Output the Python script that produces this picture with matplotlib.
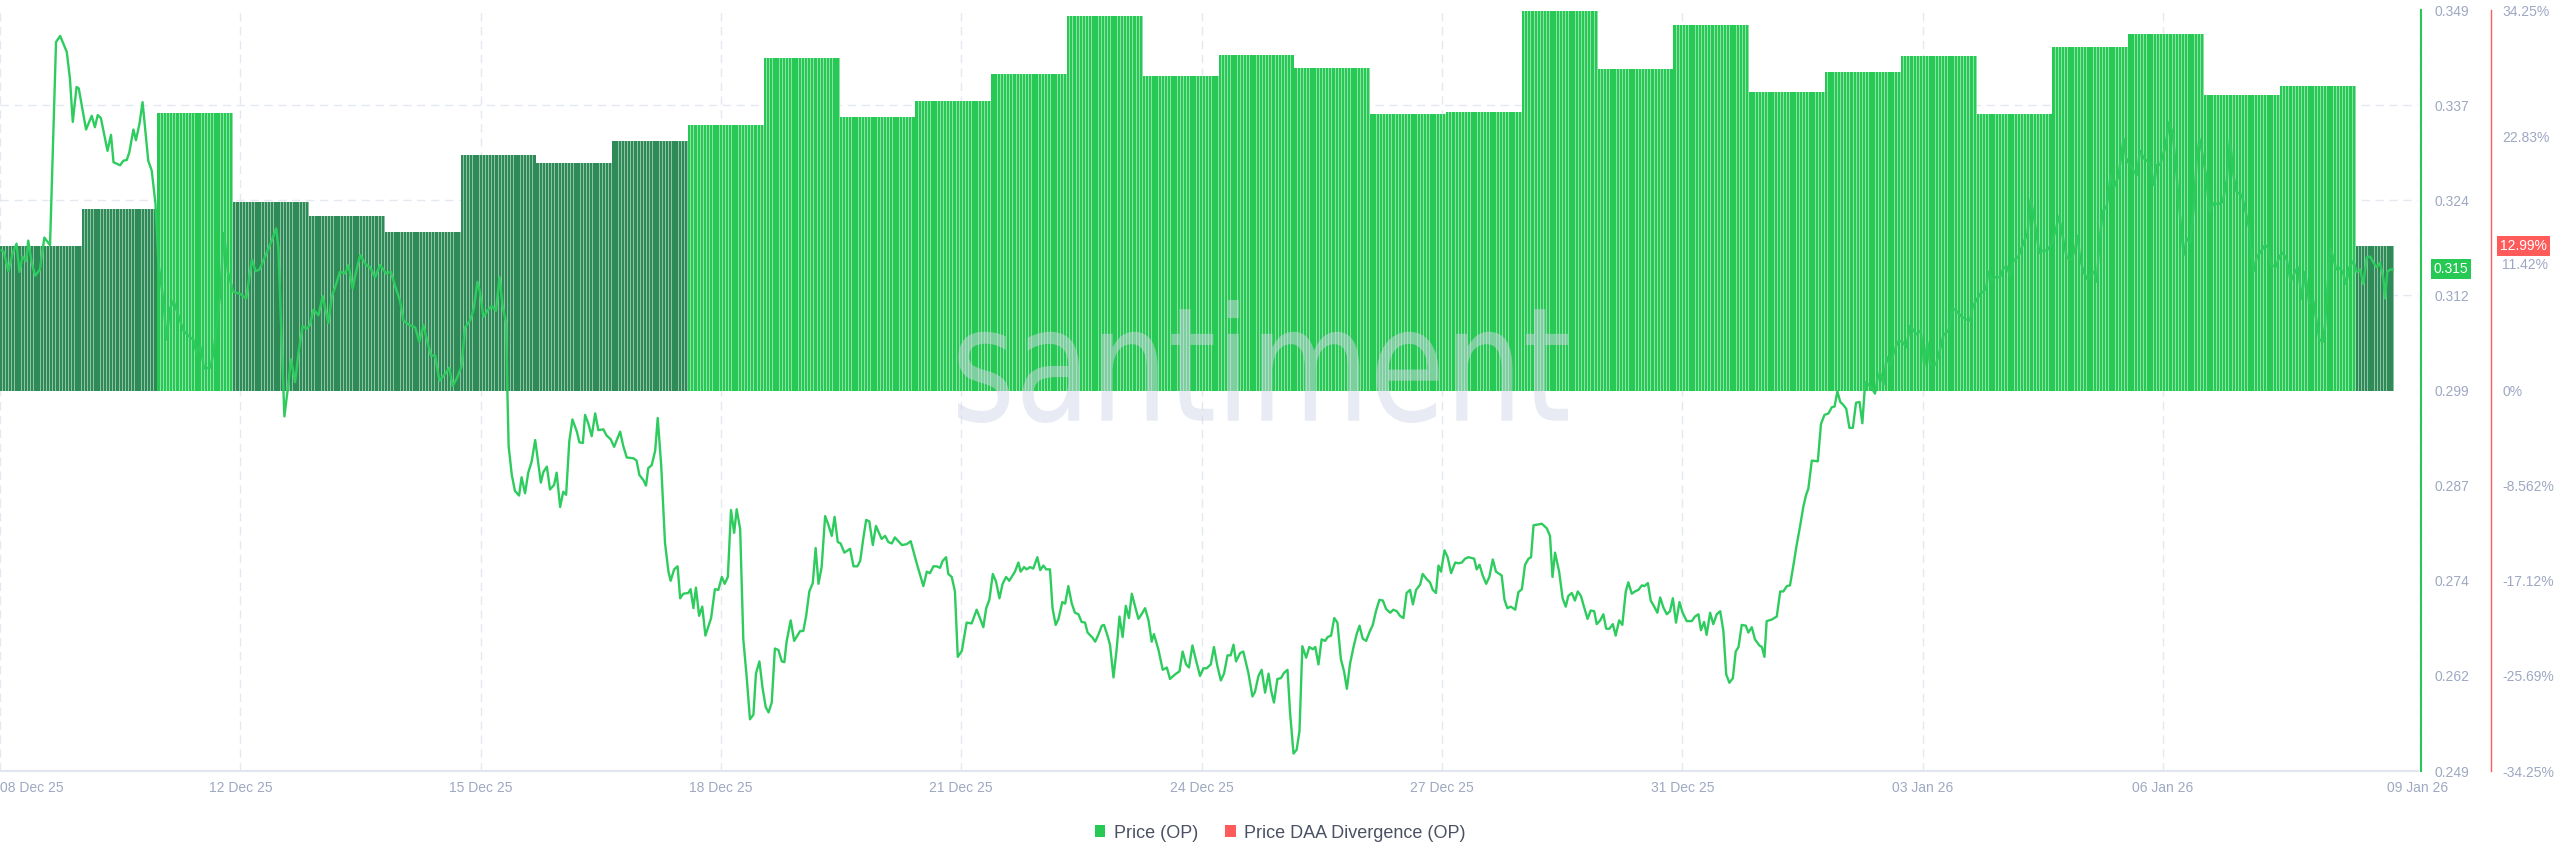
import numpy as np
import matplotlib
matplotlib.use("Agg")
import matplotlib.pyplot as plt
from matplotlib.patches import Patch, PathPatch
from matplotlib.textpath import TextPath
from matplotlib.font_manager import FontProperties
from matplotlib.transforms import Affine2D, blended_transform_factory

plt.rcParams['font.family'] = ['Liberation Sans', 'DejaVu Sans']

# daily Price DAA divergence (%), one bar per day starting 09 Dec 25
divergence = [13.0, 16.3, 25.0, 17.0, 15.7, 14.3, 21.2, 20.5, 22.5, 23.9,
              29.9, 24.6, 26.1, 28.5, 33.7, 28.3, 30.2, 29.0, 24.9, 25.1,
              34.2, 28.9, 32.9, 26.9, 28.7, 30.1, 24.9, 30.9, 32.1, 26.6,
              27.4, 12.99]
last_hour = 755          # last hourly slot drawn for the running day

# OP price, hours since 09 Dec 25 00:00
price_h = [
    -1.3, -0.6, 0.8, 2.2, 3.4, 4.3, 5.3, 6.4, 7.1, 8.2, 9.3, 10.8, 12.2, 14.0, 15.9, 17.2, 19.3, 20.3,
    21.2, 22.4, 23.1, 25.4, 27.2, 28.2, 29.1, 30.1, 32.2, 33.3, 34.1, 36.2, 37.2, 38.3, 39.1, 40.4,
    41.2, 42.3, 43.3, 45.1, 46.2, 47.4, 48.3, 49.9, 50.9, 52.0, 53.1, 54.6, 56.2, 58.3, 59.4, 60.4,
    61.5, 62.8, 64.7, 65.7, 67.8, 69.1, 70.3, 72.0, 74.2, 76.1, 77.9, 79.1, 80.3, 82.6, 84.2, 85.6,
    86.3, 87.1, 88.2, 89.3, 90.3, 91.6, 92.6, 94.0, 95.1, 96.3, 97.4, 99.0, 100.3, 102.1, 103.3,
    104.2, 105.8, 107.4, 108.5, 109.8, 110.9, 112.2, 114.1, 115.3, 116.9, 118.5, 120.4, 121.9, 123.2,
    124.8, 125.9, 127.5, 129.6, 130.9, 132.2, 133.3, 134.6, 135.9, 137.3, 139.1, 140.4, 141.5, 142.8,
    144.3, 145.4, 147.0, 148.2, 149.3, 150.1, 151.2, 152.5, 153.8, 155.2, 156.3, 157.3, 158.4, 158.8,
    159.2, 160.2, 161.2, 162.5, 163.3, 164.4, 165.4, 166.5, 167.6, 169.4, 170.2, 171.3, 172.3, 173.6,
    174.4, 175.5, 176.5, 177.4, 178.4, 179.4, 180.8, 181.6, 182.7, 183.4, 184.4, 185.5, 186.6, 187.6,
    189.2, 190.2, 191.5, 192.6, 194.5, 195.5, 196.6, 198.7, 199.7, 200.6, 201.9, 202.7, 203.4, 204.5,
    205.6, 206.4, 207.5, 208.7, 209.8, 210.5, 211.6, 212.7, 213.5, 214.5, 216.1, 216.8, 217.7, 218.5,
    219.5, 220.5, 221.5, 223.3, 224.5, 225.6, 226.7, 227.6, 228.6, 229.6, 230.6, 231.4, 232.5, 233.5,
    234.6, 235.6, 236.7, 237.5, 238.6, 239.6, 240.6, 241.5, 242.5, 243.5, 244.6, 245.7, 246.5, 247.2,
    248.5, 249.6,
    251.5, 252.5, 253.4, 254.4, 255.5, 256.4, 257.3, 258.3, 259.4, 260.4, 261.5, 262.4, 263.4, 264.3,
    265.5, 267.3, 268.4, 269.6, 270.5, 271.5, 272.4, 273.4, 274.5, 275.5, 277.3, 278.4, 279.4, 280.5,
    281.5, 283.7, 285.2, 286.5, 288.4, 290.5, 291.6, 292.6, 293.7, 294.7, 295.8, 296.6, 297.7, 298.4,
    299.5, 300.5, 301.4, 302.7, 304.2, 305.8, 307.4, 308.5, 309.5, 310.4, 311.4, 312.5, 313.5, 314.6,
    315.6, 316.7, 317.7, 319.5, 320.6, 321.3, 322.4, 323.2, 324.3, 325.3, 326.6, 327.5, 328.5, 329.4,
    330.6, 331.4, 332.4, 333.3, 334.5, 335.4, 336.4, 337.5, 338.5, 339.6, 340.6, 341.7, 342.5, 344.1,
    344.9, 345.9, 347.0, 347.7, 348.8, 349.6, 350.7, 351.7, 352.6, 353.6, 354.6, 355.6, 356.5, 357.5,
    358.6, 359.6, 360.7, 361.8, 362.8, 363.5, 364.9, 366.3, 367.6, 368.6, 370.2, 371.6, 372.6, 373.7,
    374.6, 375.7, 376.8,
    378.1, 379.2, 380.2, 381.5, 382.5, 383.6, 384.7, 385.7, 386.8, 387.8, 388.7, 389.5, 390.8, 391.8,
    393.4, 394.7, 395.5, 396.6, 397.6, 398.7, 399.8, 400.6, 401.5, 402.6, 403.7, 404.7, 405.8, 406.6,
    407.7, 408.7, 409.6, 410.5, 411.7, 412.7, 413.8, 414.6, 415.6, 416.6, 417.7, 418.5, 419.6, 420.6,
    421.6, 422.7, 423.7, 424.6, 425.6, 426.7, 427.7, 428.6, 429.6, 430.7, 431.7, 432.8, 433.8, 434.9,
    436.0, 437.0, 438.3, 439.3, 440.4, 441.4, 442.5, 443.5, 444.6, 445.5, 446.5, 447.8, 448.6, 449.9,
    450.9, 451.8, 452.8, 453.6, 454.4, 455.5, 456.5, 457.6, 458.9, 459.9, 461.0, 462.0, 463.1, 464.9,
    465.7, 466.6, 467.6, 468.7, 469.7, 470.8, 471.8, 473.6, 474.5, 475.4, 476.5, 477.9, 478.9, 480.0,
    481.0, 482.1, 482.9, 483.7, 485.2, 486.3, 487.9, 488.9, 489.7, 490.5, 491.8, 492.9, 493.9, 494.7,
    495.8, 496.8, 497.7, 498.7, 499.8, 500.8, 501.8, 502.9, 503.7,
    504.8, 505.8, 506.7, 507.7, 508.8, 509.7, 510.8, 511.8, 512.9, 513.7, 514.8, 515.8, 516.9, 518.0,
    518.8, 519.9, 520.8, 521.9, 522.9, 523.8, 524.8, 525.9, 526.9, 527.8, 528.8, 529.9, 530.9, 532.2,
    533.8, 534.8, 535.9, 536.7, 537.7, 538.5, 539.6, 540.6, 541.7, 542.8, 543.8, 544.7, 545.7, 546.8,
    547.7, 548.6, 549.6, 550.9, 551.7, 552.8, 553.8, 555.2, 556.0, 556.8, 557.5, 559.1, 560.7, 561.8,
    562.8, 563.9, 564.9, 566.0, 567.0, 568.1, 569.1, 570.0, 570.7, 571.8, 573.7, 574.7, 575.8, 577.1,
    578.1, 579.0, 579.9, 580.8, 581.8, 582.7, 583.7, 584.8, 585.8, 586.9, 587.8, 588.7, 589.7, 590.8,
    591.8, 592.6, 593.4, 594.5, 595.5, 596.6, 597.6, 599.0, 600.3, 601.7, 602.9, 604.0, 605.0, 606.3,
    607.4, 608.4, 609.2, 611.1, 612.4, 613.5, 615.1, 616.4, 617.5, 619.3, 620.9, 621.9, 622.8, 623.8,
    625.1, 626.1, 627.0, 627.7, 628.8, 629.8, 631.4,
    632.5, 633.5, 634.6, 635.6, 637.2, 638.8, 640.1, 641.1, 642.0, 643.0, 643.9, 645.1, 646.2, 647.8,
    649.1, 650.1, 651.2, 652.5, 654.1, 655.2, 655.9, 656.7, 657.8, 659.1, 660.1, 661.2, 662.0, 662.9,
    663.9, 665.2, 666.4, 667.5, 668.9, 670.5, 671.3, 672.6, 673.6, 674.7, 675.7, 677.0, 678.1, 679.1,
    680.2, 681.0, 682.1, 683.6, 685.0, 686.1, 687.3, 688.4, 689.5, 690.5, 691.6, 692.6, 693.7, 694.5,
    695.6, 696.6, 697.7, 699.0, 700.5, 701.9, 703.2, 704.2, 705.3, 706.3, 707.9, 709.0, 710.3, 711.6,
    712.7, 713.7, 715.3, 716.2, 717.2, 718.8, 719.8, 720.9, 722.2, 723.4, 724.8, 725.7, 726.9, 728.0,
    729.3, 730.6, 731.7, 732.5, 733.6, 734.3, 735.2, 735.9, 736.9, 737.8, 738.8, 739.9, 741.0, 742.0,
    743.3, 744.3, 745.4, 746.4, 747.5, 748.6, 749.6, 750.7, 751.7, 752.8, 753.3, 754.0, 754.9, 755.7]
price_v = [
    .3174, .3172, .3147, .3171, .3183, .3146, .3166, .3160, .3187, .3158, .3141, .3149, .3191, .3181, .3448, .3456, .3435, .3400,
    .3343, .3389, .3387, .3333, .3351, .3336, .3352, .3348, .3305, .3326, .3290, .3286, .3292, .3293, .3303, .3333,
    .3319, .3340, .3369, .3292, .3279, .3235, .3158, .3108, .3057, .3098, .3108, .3089, .3069, .3060, .3057, .3038,
    .3049, .3019, .3020, .3038, .3114, .3197, .3146, .3120, .3117, .3111, .3162, .3147, .3149, .3171, .3187, .3203,
    .3178, .3082, .2956, .2993, .3031, .3001, .3038, .3075, .3071, .3076, .3096, .3089, .3114, .3079, .3115,
    .3125, .3146, .3144, .3155, .3124, .3146, .3168, .3155, .3152, .3139, .3155, .3144, .3146, .3128,
    .3108, .3082, .3077, .3073, .3054, .3076, .3057, .3036, .3036, .3003, .3012, .3020, .2996, .3006,
    .3022, .3073, .3082, .3098, .3133, .3120, .3087, .3095, .3101, .3095, .3139, .3101, .3079, .2990,
    .2917, .2879, .2858, .2852, .2876, .2855, .2882, .2897, .2925, .2869, .2883, .2890, .2860, .2866,
    .2882, .2837, .2857, .2853, .2923, .2952, .2936, .2922, .2921, .2958, .2947, .2930, .2960, .2938,
    .2939, .2931, .2926, .2916, .2936, .2917, .2902, .2901, .2898, .2879, .2872, .2865, .2888, .2892,
    .2911, .2954, .2892, .2790, .2752, .2740, .2755, .2759, .2717, .2723, .2724, .2729, .2704, .2731,
    .2694, .2706, .2668, .2691, .2729, .2728, .2745, .2736, .2745, .2833, .2803, .2834, .2808, .2663,
    .2612, .2558, .2564, .2618, .2634, .2599, .2574, .2567, .2580, .2651, .2649, .2634, .2633, .2660,
    .2688, .2661,
    .2674, .2674, .2694, .2726, .2737, .2783, .2736, .2758, .2825, .2814, .2799, .2824, .2791, .2789,
    .2777, .2782, .2759, .2759, .2766, .2796, .2820, .2818, .2787, .2812, .2795, .2799, .2791, .2789,
    .2797, .2787, .2788, .2792, .2763, .2733, .2752, .2750, .2759, .2759, .2757, .2766, .2771, .2749,
    .2745, .2726, .2640, .2648, .2685, .2684, .2702, .2690, .2679, .2704, .2715, .2749, .2739, .2717,
    .2736, .2745, .2740, .2752, .2764, .2752, .2758, .2755, .2758, .2756, .2771, .2754, .2760, .2755,
    .2755, .2704, .2682, .2690, .2712, .2710, .2733, .2710, .2698, .2696, .2686, .2685, .2672, .2665,
    .2660, .2669, .2681, .2682, .2668, .2656, .2613, .2650, .2693, .2666, .2707, .2691, .2723, .2707,
    .2690, .2696, .2704, .2688, .2660, .2670, .2650, .2623, .2626, .2611, .2617, .2621, .2647, .2630,
    .2626, .2655, .2636,
    .2615, .2625, .2625, .2630, .2653, .2628, .2609, .2618, .2642, .2642, .2656, .2634, .2645, .2647,
    .2619, .2588, .2594, .2615, .2623, .2593, .2618, .2596, .2580, .2611, .2612, .2619, .2623, .2567,
    .2513, .2518, .2543, .2654, .2639, .2653, .2650, .2653, .2630, .2663, .2661, .2666, .2668, .2691,
    .2685, .2637, .2621, .2598, .2631, .2653, .2670, .2681, .2664, .2661, .2672, .2682, .2700, .2715,
    .2714, .2703, .2698, .2702, .2700, .2694, .2691, .2724, .2728, .2709, .2728, .2735, .2749, .2742,
    .2738, .2728, .2724, .2760, .2752, .2780, .2771, .2750, .2764, .2763, .2764, .2769, .2771, .2769,
    .2755, .2761, .2747, .2736, .2745, .2768, .2752, .2747, .2715, .2704, .2706, .2702, .2725, .2729,
    .2761, .2769, .2771, .2813, .2814, .2815, .2809, .2799, .2745, .2777, .2752, .2717, .2706, .2720,
    .2724, .2714, .2726, .2720, .2704, .2690, .2701, .2700, .2683,
    .2688, .2696, .2677, .2677, .2683, .2668, .2688, .2682, .2726, .2738, .2723, .2726, .2728, .2734,
    .2733, .2737, .2714, .2706, .2698, .2718, .2705, .2696, .2700, .2717, .2685, .2712, .2698, .2687,
    .2687, .2693, .2696, .2675, .2686, .2669, .2698, .2683, .2696, .2700, .2674, .2617, .2606, .2612,
    .2647, .2653, .2682, .2681, .2672, .2679, .2663, .2655, .2653, .2640, .2687, .2689, .2693, .2726,
    .2726, .2733, .2734, .2761, .2787, .2812, .2837, .2853, .2861, .2898, .2897, .2946, .2958, .2960,
    .2968, .2969, .2989, .2975, .2971, .2966, .2941, .2941, .2974, .2975, .2947, .3001, .2998, .2993,
    .2986, .3006, .3014, .2998, .3034, .3022, .3038, .3054, .3055, .3047, .3075, .3069, .3064, .3069,
    .3022, .3054, .3025, .3024, .3044, .3063, .3069, .3098, .3095, .3087, .3083, .3082, .3101, .3108,
    .3117, .3120, .3124, .3146, .3134, .3139, .3139,
    .3151, .3153, .3141, .3160, .3166, .3184, .3197, .3242, .3222, .3193, .3171, .3174, .3174, .3183,
    .3203, .3219, .3193, .3165, .3162, .3178, .3193, .3165, .3146, .3136, .3143, .3146, .3133, .3187,
    .3226, .3232, .3273, .3257, .3272, .3321, .3295, .3286, .3279, .3273, .3305, .3295, .3291, .3284,
    .3260, .3286, .3287, .3308, .3343, .3327, .3273, .3219, .3168, .3190, .3184, .3225, .3295, .3321,
    .3298, .3273, .3225, .3236, .3235, .3238, .3267, .3321, .3273, .3251, .3247, .3228, .3203, .3146,
    .3166, .3171, .3181, .3178, .3155, .3153, .3166, .3171, .3162, .3133, .3146, .3152, .3111, .3146,
    .3104, .3108, .3079, .3057, .3054, .3076, .3133, .3178, .3165, .3149, .3151, .3146, .3130, .3152,
    .3160, .3146, .3149, .3130, .3165, .3166, .3158, .3152, .3158, .3136, .3111, .3146, .3149, .3149]

x_labels = ["08 Dec 25", "12 Dec 25", "15 Dec 25", "18 Dec 25", "21 Dec 25", "24 Dec 25",
            "27 Dec 25", "31 Dec 25", "03 Jan 26", "06 Jan 26", "09 Jan 26"]
price_ticks = [0.249, 0.2615, 0.274, 0.2865, 0.299, 0.3115, 0.324, 0.3365, 0.349]
price_labels = ["0.249", "0.262", "0.274", "0.287", "0.299", "0.312", "0.324", "0.337", "0.349"]
pct_ticks = [-34.25, -25.6875, -17.125, -8.5625, 0, 11.4167, 22.8333, 34.25]
pct_labels = ["-34.25%", "-25.69%", "-17.12%", "-8.562%", "0%", "11.42%", "22.83%", "34.25%"]
last_price = 0.315
last_div = 12.99

GREEN = '#26c953'
DARK = '#2e8b57'
GREEN_T = '#8fe0a6'
DARK_T = '#8fc2a5'
RED = '#ff5b5b'
TICK = '#9ea8c2'
GRID = '#e4e8f1'

x_left, x_right = -1.84, 763.7
grid_step = 76.09
p_lo, p_hi = 0.249, 0.349
d_lim = 34.25

fig = plt.figure(figsize=(25.6, 8.67), dpi=100)
ax = fig.add_axes([0, 0.1107, 0.9445, 0.8777])
ax2 = ax.twinx()

# hourly stripes making up each daily bar
hours = np.arange(-2, last_hour + 1)
day = np.clip(hours // 24, 0, None)
vals = np.array(divergence)[day]
strong = vals > 23
ax.bar(hours, vals, width=1.0, align='edge',
       color=np.where(strong, GREEN_T, DARK_T), linewidth=0, zorder=2)
ax.bar(hours, vals, width=0.72, align='edge',
       color=np.where(strong, GREEN, DARK), linewidth=0, zorder=2.1)

ax.set_xlim(x_left, x_right)
ax.set_ylim(-d_lim, d_lim)
ax2.set_ylim(p_lo, p_hi)

ticks = [x_left + k * grid_step for k in range(10)] + [x_right]
ax.set_xticks(ticks, x_labels)
ax.tick_params(axis='x', length=0, pad=7, labelsize=10, labelcolor=TICK)
first = ax.get_xticklabels()[0]
first.set_ha('left')
first.set_x(x_left + 1.9)

ax.yaxis.tick_right()
ax.set_yticks(pct_ticks, pct_labels)
ax.tick_params(axis='y', length=0, pad=8, labelsize=10, labelcolor=TICK)
# price grid lines drawn on the bar axis so they sit under the bars
mid = (p_lo + p_hi) / 2
ax.set_yticks([(p - mid) / (p_hi - mid) * d_lim for p in price_ticks], minor=True)
ax.tick_params(axis='y', which='minor', length=0, labelright=False)
ax.set_axisbelow(True)
ax.grid(True, axis='x', which='major', color=GRID, ls=(0, (6, 4)), lw=1.0, zorder=0)
ax.grid(True, axis='y', which='minor', color=GRID, ls=(0, (6, 4)), lw=1.0, zorder=0)
ax.grid(False, axis='y', which='major')

for s in ['left', 'top']:
    ax.spines[s].set_visible(False)
ax.spines['bottom'].set_color('#e1e5ee')
ax.spines['bottom'].set_linewidth(1.5)
ax.spines['right'].set_position(('axes', 1.0302))
ax.spines['right'].set_color(RED)
ax.spines['right'].set_linewidth(1.0)

ax2.set_yticks(price_ticks, price_labels)
ax2.tick_params(axis='y', length=0, pad=10, labelsize=10, labelcolor=TICK)
for s in ['left', 'top', 'bottom']:
    ax2.spines[s].set_visible(False)
ax2.spines['right'].set_position(('axes', 1.0012))
ax2.spines['right'].set_color(GREEN)
ax2.spines['right'].set_linewidth(1.5)

ax2.plot(price_h, price_v, color='#2ecc5e', lw=1.7, solid_joinstyle='round', zorder=3)

# watermark
tp = TextPath((0, 0), 'santiment', size=100, prop=FontProperties(family='DejaVu Sans'))
bb = tp.get_extents()
fx0, fx1 = 958 / 2560, 1568 / 2560
fy0, fy1 = 1 - 423 / 867, 1 - 300 / 867
tr = (Affine2D().translate(-bb.x0, -bb.y0)
      .scale((fx1 - fx0) / bb.width, (fy1 - fy0) / bb.height)
      .translate(fx0, fy0) + fig.transFigure)
wm = PathPatch(tp, transform=tr, fc='#d3d7ea', ec='none', alpha=0.5, zorder=2)
wm.set_clip_on(False)
ax2.add_artist(wm)

# current value badges
tb2 = blended_transform_factory(ax2.transAxes, ax2.transData)
ax2.text(1.0064, last_price, f"{last_price:.3f}", transform=tb2, ha='left', va='center',
         color='white', fontsize=10, clip_on=False,
         bbox=dict(boxstyle='square,pad=0.2', fc=GREEN, ec='none'))
tb1 = blended_transform_factory(ax.transAxes, ax.transData)
ax.text(1.0340, last_div, f"{last_div:.2f}%", transform=tb1, ha='left', va='center',
        color='white', fontsize=10, clip_on=False, zorder=5,
        bbox=dict(boxstyle='square,pad=0.2', fc=RED, ec='none'))

fig.legend(handles=[Patch(fc=GREEN, label='Price (OP)'),
                    Patch(fc=RED, label='Price DAA Divergence (OP)')],
           loc='center', bbox_to_anchor=(0.5, 1 - 833 / 867), ncol=2, frameon=False,
           fontsize=13, handlelength=0.6, handleheight=0.65, handletextpad=0.45,
           columnspacing=1.5, labelcolor='#4a5162')

fig.savefig('out.png', dpi=100, facecolor='white')
